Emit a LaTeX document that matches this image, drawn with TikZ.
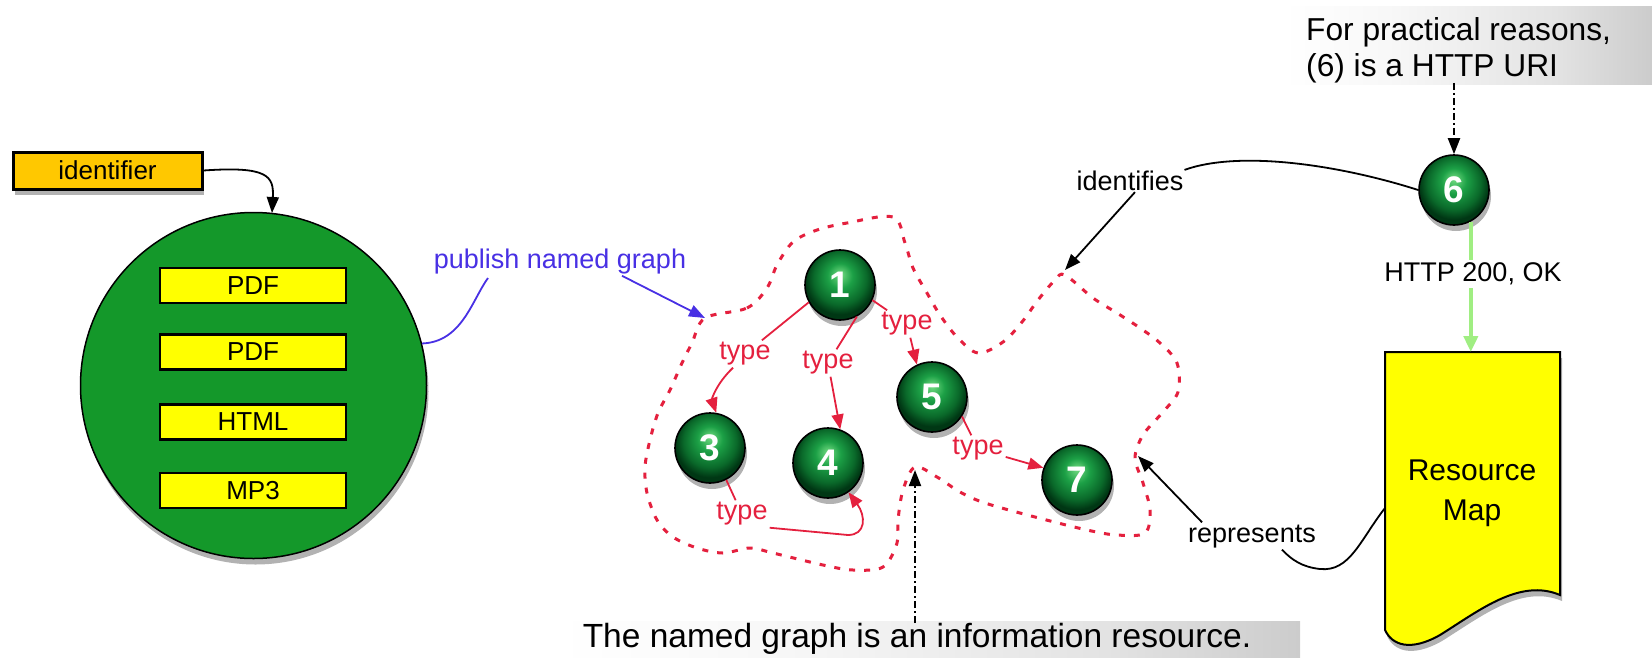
\documentclass[tikz,border=0pt]{standalone}
\usepackage{fontspec}
\setmainfont{Liberation Sans}
\usetikzlibrary{arrows.meta,shadows,calc}

\definecolor{idorange}{RGB}{255,200,0}
\definecolor{bggreen}{RGB}{20,152,42}
\definecolor{boxyellow}{RGB}{255,255,0}
\definecolor{typered}{RGB}{228,32,62}
\definecolor{pubblue}{RGB}{72,48,228}
\definecolor{okgreen}{RGB}{160,238,130}
\definecolor{lightball}{RGB}{115,220,130}
\definecolor{midball}{RGB}{28,160,70}
\definecolor{darkball}{RGB}{10,105,42}
\definecolor{edgeball}{RGB}{0,55,20}

% glossy green ball for the resource nodes
\pgfdeclareradialshading{gball}{\pgfpoint{0bp}{8bp}}{%
  color(0bp)=(lightball); color(9bp)=(midball); color(19bp)=(darkball);
  color(25bp)=(edgeball); color(50bp)=(edgeball)}
% fading grey band behind the notes (only 25bp..75bp is visible)
\pgfdeclarehorizontalshading{notefade}{100bp}{%
  color(0bp)=(white); color(25bp)=(white); color(40bp)=(black!3);
  color(62bp)=(black!11); color(75bp)=(black!20); color(100bp)=(black!20)}

\begin{document}
\begin{tikzpicture}[x=1pt,y=1pt,
  lbl/.style={font=\fontsize{27}{32}\selectfont, inner sep=1pt},
  softshadow/.style={drop shadow={shadow xshift=2pt, shadow yshift=-6pt, opacity=.3, fill=black}},
  ball/.style={circle, minimum size=70pt, inner sep=0pt, draw=black, line width=1.6pt,
    shading=gball, text=white, font=\fontsize{37}{40}\selectfont\bfseries, softshadow},
  fmtbox/.style={rectangle, minimum width=186pt, minimum height=35pt, inner sep=0pt,
    draw=black, line width=2.5pt, fill=boxyellow, font=\fontsize{26}{30}\selectfont},
  blackarrow/.style={draw=black, line width=1.8pt, -{Triangle[length=16pt,width=12pt]}},
  plainline/.style={draw=black, line width=1.8pt},
  ddarrow/.style={draw=black, line width=2pt, dash pattern=on 7pt off 3pt on 2pt off 3pt,
    -{Triangle[length=16pt,width=12pt]}},
  redline/.style={draw=typered, line width=1.8pt},
  rarrow/.style={draw=typered, line width=1.8pt, -{Triangle[length=15pt,width=12pt]}},
  typelbl/.style={lbl, text=typered, inner sep=2pt},
  ngraph/.style={draw=typered, line width=3pt, dash pattern=on 6pt off 9pt},
]
\useasboundingbox (0,0) rectangle (1652,-657);

% ---- left: identified resource holding several formats
\node[rectangle, minimum width=189pt, minimum height=37pt, inner sep=0pt, draw=black,
  line width=3pt, fill=idorange, font=\fontsize{26}{30}\selectfont, softshadow]
  (idf) at (107.5,-170.5) {identifier};
\node[circle, minimum size=346pt, inner sep=0pt, draw=black, line width=1.5pt,
  fill=bggreen, softshadow] (res) at (253.5,-385.5) {};
\node[fmtbox] (pdfa) at (253,-285.5) {PDF};
\node[fmtbox] (pdfb) at (253,-352) {PDF};
\node[fmtbox] (html) at (253,-422) {HTML};
\node[fmtbox] (mp3)  at (253,-490.5) {MP3};
\draw[blackarrow] (idf.east) .. controls (268,-166) and (274,-176) .. (272,-213);

% ---- the named graph
\coordinate (bpub) at (705,-318);
\coordinate (bid) at (1065,-270);
\coordinate (brep) at (1138,-456);
\coordinate (binfo) at (915,-470);
\draw[ngraph] plot[smooth cycle, tension=0.55] coordinates {
  (705,-318) (747,-308) (767,-288) (777,-265) (793,-242) (817,-230) (847,-223)
  (893,-217) (905,-243) (913,-268) (927,-293) (940,-315) (957,-337) (978,-353)
  (1003,-342) (1022,-322) (1038,-300) (1055,-280) (1065,-275) (1093,-298)
  (1117,-313) (1140,-328) (1160,-343) (1177,-363) (1178,-392) (1162,-413)
  (1143,-435) (1135,-458) (1143,-483) (1150,-510) (1145,-533) (1117,-535)
  (1087,-530) (1035,-517) (985,-503) (960,-492) (937,-477) (915,-467)
  (903,-490) (898,-520) (897,-543) (883,-567) (853,-570) (823,-565) (773,-553)
  (750,-548) (723,-553) (697,-548) (673,-537) (657,-520) (647,-493) (645,-467)
  (650,-440) (658,-413) (670,-390) (682,-363) (692,-343)};

\node[ball] (n1) at (840,-285) {1};
\node[ball] (n3) at (710,-448) {3};
\node[ball] (n4) at (828,-463) {4};
\node[ball] (n5) at (932,-397) {5};
\node[ball] (n7) at (1077,-480) {7};

\node[typelbl] (t13) at (745,-354) {type};
\node[typelbl] (t14) at (828,-363) {type};
\node[typelbl] (t15) at (907,-324) {type};
\node[typelbl] (t57) at (978,-449) {type};
\node[typelbl] (t34) at (742,-514) {type};

\draw[redline] (n1.-151) -- (t13);
\draw[rarrow] ($(t13.south)+(-12,0)$) .. controls (715,-385) and (712,-400) .. (n3.80);
\draw[redline] (n1.-62) -- (t14);
\draw[rarrow] (t14) -- (n4.70);
\draw[redline] (n1.-25) -- (t15);
\draw[rarrow] (t15) -- (n5.115);
\draw[redline] (n5.-33) -- (t57);
\draw[rarrow] (t57) -- (n7.160);
\draw[redline] (n3.-63) -- (t34);
\draw[rarrow] (t34.south east) -- (848,-535) .. controls (866,-535) and (866,-516) .. (n4.-55);

% ---- publishing
\node[lbl, text=pubblue] (pub) at (560,-262) {publish named graph};
\draw[draw=pubblue, line width=1.8pt] (res.14) .. controls (462,-342) and (472,-300) .. (488,-278);
\draw[draw=pubblue, line width=1.8pt, -{Triangle[length=16pt,width=12pt]}]
  ($(pub.south)+(62,0)$) -- (bpub);

% ---- the HTTP URI and the resource map
\node[ball] (n6) at (1454,-190) {6};
\coordinate (rmtop) at (1472,-352);
\coordinate (rmleft) at (1385,-508);
\draw[fill=boxyellow, draw=black, line width=2pt, softshadow]
  (1385,-352) -- (1560,-352) -- (1560,-595)
  .. controls (1520,-578) and (1480,-610) .. (1440,-635)
  .. controls (1410,-652) and (1392,-645) .. (1385,-630) -- cycle;
\node[align=center, font=\fontsize{30}{40}\selectfont] (rmap) at (1472,-493) {Resource\\Map};

\draw[draw=okgreen, line width=4pt, -{Triangle[length=16pt,width=14pt]}] (n6.-62) -- (n6.-62 |- rmtop);
\node[lbl, fill=white, inner sep=3pt] (http) at (1473,-274) {HTTP 200, OK};

\node[lbl] (idlab) at (1130,-181) {identifies};
\draw[plainline] (idlab.north east) .. controls (1240,-150) and (1340,-165) .. (n6.west);
\draw[blackarrow] ($(idlab.south)+(5,0)$) -- (bid);

\node[lbl] (replab) at (1252,-537) {represents};
\draw[plainline] (rmleft) .. controls (1360,-540) and (1350,-572) .. (1320,-569)
  .. controls (1302,-567) and (1292,-560) .. ($(replab.south east)+(-35,0)$);
\draw[blackarrow] ($(replab.north)+(-50,2)$) -- (brep);

% ---- notes
\shade[shading=notefade] (1283,-6) rectangle (1652,-84);
\node[font=\fontsize{31.7}{36}\selectfont, inner sep=0pt, align=left, anchor=north west]
  (ntop) at (1306,-17) {For practical reasons,\\(6) is a HTTP URI};
\draw[ddarrow] (n6 |- ntop.south) -- (n6.north);

\shade[shading=notefade] (558,-621) rectangle (1300,-657);
\node[font=\fontsize{33.5}{38}\selectfont, inner sep=0pt] (nbot) at (917,-639)
  {The named graph is an information resource.};
\draw[ddarrow] (binfo |- nbot.north) -- (binfo);
\end{tikzpicture}
\end{document}
